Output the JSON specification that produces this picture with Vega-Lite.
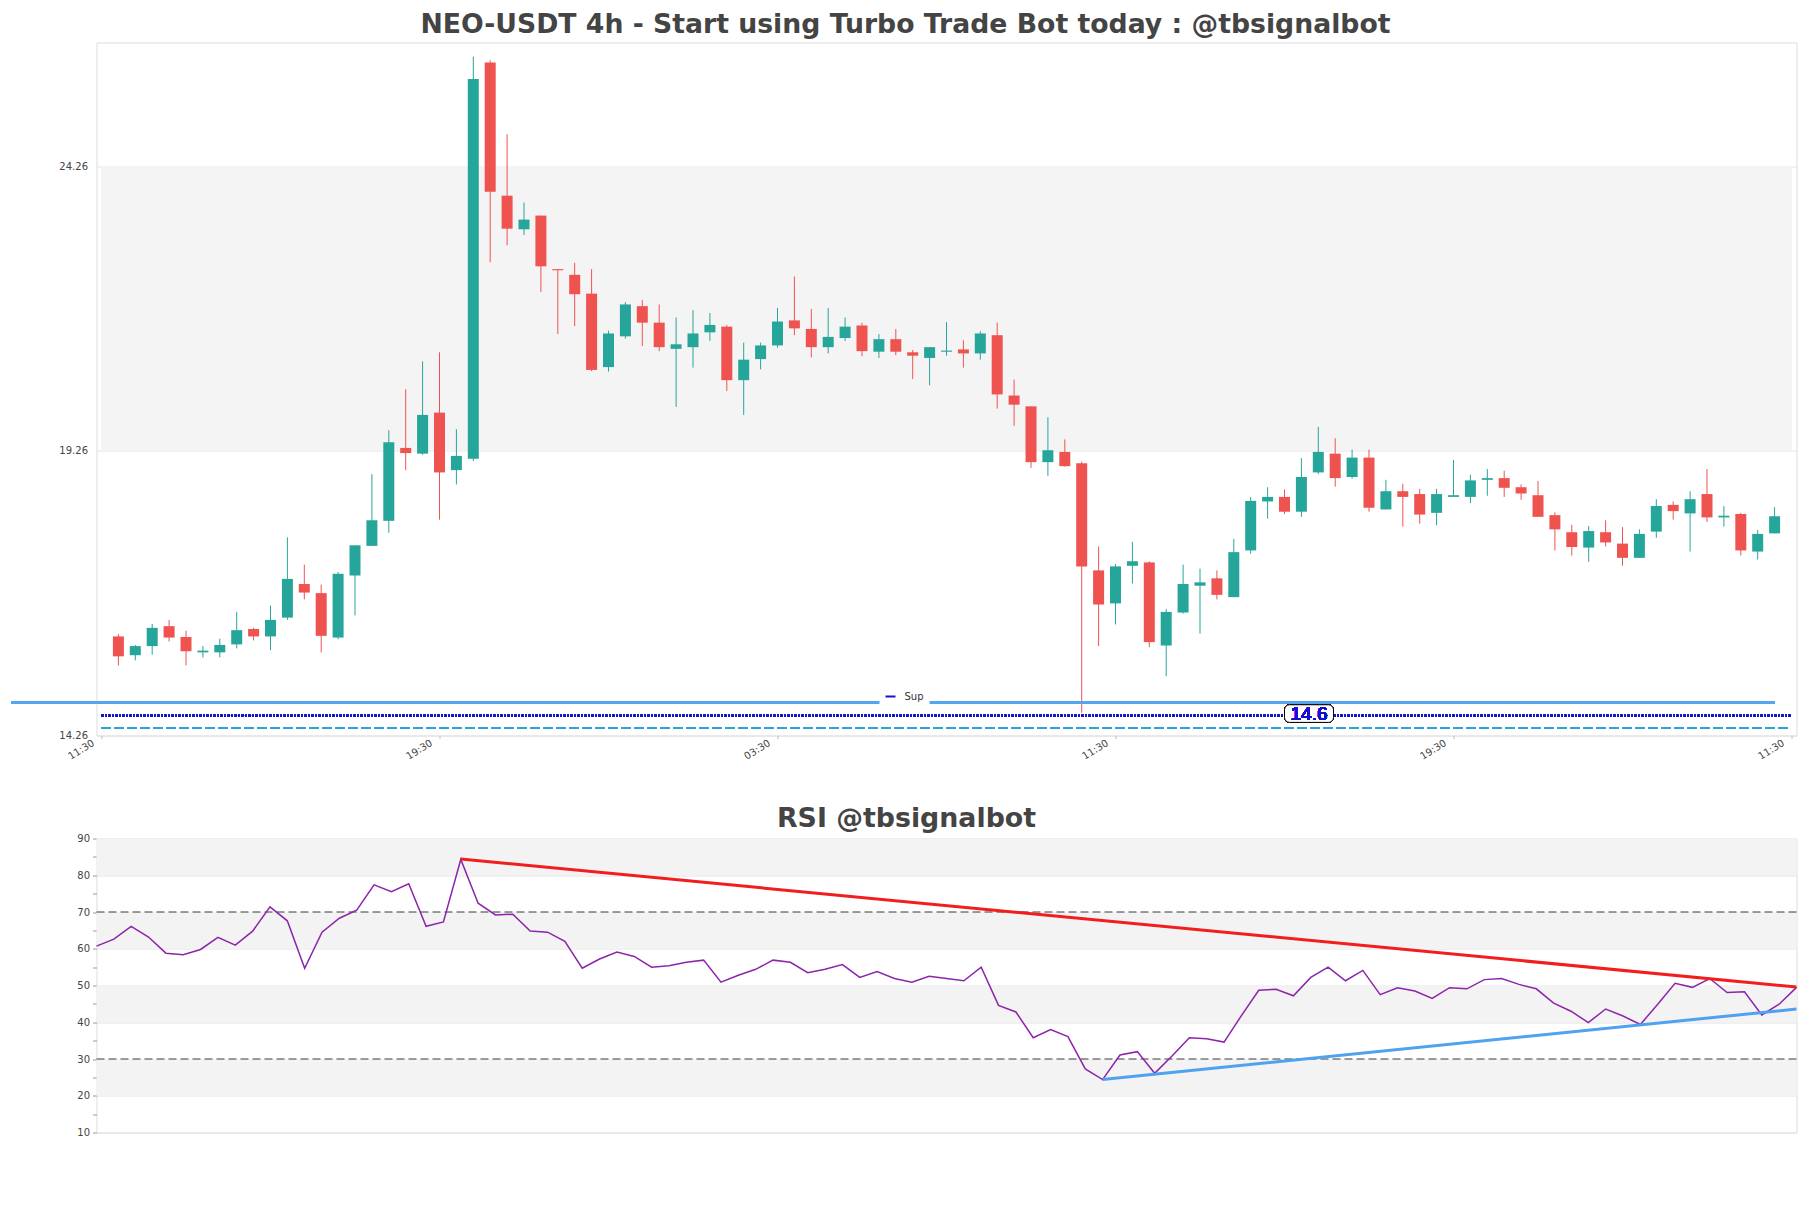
{
  "$schema": "https://vega.github.io/schema/vega-lite/v6.json",
  "background": "white",
  "padding": {"left": 9.5, "top": 11.5, "right": 14, "bottom": 10},
  "config": {"font": "DejaVu Sans", "view": {"stroke": "#dddddd"}},
  "datasets": {
    "candles": [
      {"i":1,"o":16.00,"h":16.04,"l":15.49,"c":15.65,"r":60.7},
      {"i":2,"o":15.67,"h":15.85,"l":15.58,"c":15.83,"r":62.6},
      {"i":3,"o":15.83,"h":16.22,"l":15.68,"c":16.15,"r":66.1},
      {"i":4,"o":16.18,"h":16.29,"l":15.91,"c":15.98,"r":63.2},
      {"i":5,"o":15.99,"h":16.10,"l":15.49,"c":15.74,"r":58.8},
      {"i":6,"o":15.72,"h":15.83,"l":15.63,"c":15.75,"r":58.4},
      {"i":7,"o":15.72,"h":15.96,"l":15.63,"c":15.85,"r":59.8},
      {"i":8,"o":15.86,"h":16.43,"l":15.79,"c":16.11,"r":63.1},
      {"i":9,"o":16.13,"h":16.15,"l":15.93,"c":16.00,"r":61.0},
      {"i":10,"o":16.00,"h":16.54,"l":15.76,"c":16.29,"r":64.8},
      {"i":11,"o":16.33,"h":17.74,"l":16.29,"c":17.01,"r":71.4},
      {"i":12,"o":16.92,"h":17.26,"l":16.65,"c":16.77,"r":67.6},
      {"i":13,"o":16.76,"h":16.91,"l":15.72,"c":16.01,"r":54.7},
      {"i":14,"o":15.98,"h":17.13,"l":15.95,"c":17.10,"r":64.5},
      {"i":15,"o":17.07,"h":17.60,"l":16.37,"c":17.60,"r":68.3},
      {"i":16,"o":17.59,"h":18.85,"l":17.59,"c":18.04,"r":70.5},
      {"i":17,"o":18.03,"h":19.62,"l":17.82,"c":19.41,"r":77.4},
      {"i":18,"o":19.31,"h":20.34,"l":18.92,"c":19.22,"r":75.5},
      {"i":19,"o":19.21,"h":20.83,"l":19.19,"c":19.89,"r":77.7},
      {"i":20,"o":19.93,"h":20.99,"l":18.05,"c":18.88,"r":66.1},
      {"i":21,"o":18.92,"h":19.64,"l":18.67,"c":19.17,"r":67.3},
      {"i":22,"o":19.12,"h":26.18,"l":19.08,"c":25.79,"r":84.3},
      {"i":23,"o":26.08,"h":26.12,"l":22.57,"c":23.81,"r":72.4},
      {"i":24,"o":23.74,"h":24.82,"l":22.87,"c":23.16,"r":69.2},
      {"i":25,"o":23.15,"h":23.62,"l":23.05,"c":23.32,"r":69.4},
      {"i":26,"o":23.39,"h":23.39,"l":22.05,"c":22.50,"r":64.8},
      {"i":27,"o":22.45,"h":22.45,"l":21.31,"c":22.43,"r":64.5},
      {"i":28,"o":22.35,"h":22.56,"l":21.45,"c":22.01,"r":62.0},
      {"i":29,"o":22.02,"h":22.45,"l":20.66,"c":20.68,"r":54.7},
      {"i":30,"o":20.73,"h":21.37,"l":20.65,"c":21.32,"r":57.2},
      {"i":31,"o":21.27,"h":21.87,"l":21.23,"c":21.83,"r":59.1},
      {"i":32,"o":21.80,"h":21.91,"l":21.10,"c":21.51,"r":57.9},
      {"i":33,"o":21.51,"h":21.83,"l":21.01,"c":21.08,"r":55.0},
      {"i":34,"o":21.05,"h":21.60,"l":20.03,"c":21.13,"r":55.4},
      {"i":35,"o":21.08,"h":21.73,"l":20.72,"c":21.32,"r":56.3},
      {"i":36,"o":21.34,"h":21.68,"l":21.19,"c":21.47,"r":56.9},
      {"i":37,"o":21.44,"h":21.47,"l":20.31,"c":20.50,"r":50.9},
      {"i":38,"o":20.50,"h":21.16,"l":19.89,"c":20.86,"r":52.8},
      {"i":39,"o":20.87,"h":21.16,"l":20.69,"c":21.11,"r":54.4},
      {"i":40,"o":21.11,"h":21.77,"l":21.07,"c":21.53,"r":56.9},
      {"i":41,"o":21.55,"h":22.32,"l":21.29,"c":21.41,"r":56.3},
      {"i":42,"o":21.40,"h":21.75,"l":20.90,"c":21.08,"r":53.5},
      {"i":43,"o":21.08,"h":21.77,"l":20.97,"c":21.26,"r":54.4},
      {"i":44,"o":21.24,"h":21.60,"l":21.19,"c":21.44,"r":55.7},
      {"i":45,"o":21.46,"h":21.51,"l":20.92,"c":21.01,"r":52.2},
      {"i":46,"o":21.00,"h":21.31,"l":20.89,"c":21.22,"r":53.8},
      {"i":47,"o":21.22,"h":21.40,"l":20.94,"c":21.00,"r":51.9},
      {"i":48,"o":20.99,"h":21.03,"l":20.52,"c":20.93,"r":50.9},
      {"i":49,"o":20.89,"h":21.08,"l":20.41,"c":21.08,"r":52.5},
      {"i":50,"o":21.00,"h":21.52,"l":20.93,"c":21.02,"r":51.9},
      {"i":51,"o":21.04,"h":21.20,"l":20.72,"c":20.97,"r":51.3},
      {"i":52,"o":20.97,"h":21.36,"l":20.86,"c":21.32,"r":55.0},
      {"i":53,"o":21.29,"h":21.51,"l":20.00,"c":20.25,"r":44.6},
      {"i":54,"o":20.23,"h":20.51,"l":19.70,"c":20.07,"r":42.8},
      {"i":55,"o":20.04,"h":20.04,"l":18.96,"c":19.06,"r":35.8},
      {"i":56,"o":19.06,"h":19.85,"l":18.82,"c":19.27,"r":38.0},
      {"i":57,"o":19.24,"h":19.46,"l":18.98,"c":18.99,"r":36.1},
      {"i":58,"o":19.04,"h":19.07,"l":14.66,"c":17.23,"r":27.3},
      {"i":59,"o":17.16,"h":17.58,"l":15.83,"c":16.56,"r":24.4},
      {"i":60,"o":16.58,"h":17.27,"l":16.21,"c":17.23,"r":31.1},
      {"i":61,"o":17.24,"h":17.66,"l":16.93,"c":17.32,"r":32.0},
      {"i":62,"o":17.30,"h":17.32,"l":15.81,"c":15.90,"r":26.1},
      {"i":63,"o":15.84,"h":16.48,"l":15.30,"c":16.43,"r":30.8},
      {"i":64,"o":16.42,"h":17.26,"l":16.40,"c":16.92,"r":35.8},
      {"i":65,"o":16.89,"h":17.19,"l":16.05,"c":16.95,"r":35.5},
      {"i":66,"o":17.02,"h":17.16,"l":16.65,"c":16.73,"r":34.6},
      {"i":67,"o":16.69,"h":17.71,"l":16.69,"c":17.48,"r":41.8},
      {"i":68,"o":17.51,"h":18.45,"l":17.45,"c":18.38,"r":48.7},
      {"i":69,"o":18.37,"h":18.62,"l":18.07,"c":18.45,"r":49.0},
      {"i":70,"o":18.45,"h":18.58,"l":18.15,"c":18.19,"r":47.2},
      {"i":71,"o":18.19,"h":19.13,"l":18.10,"c":18.80,"r":52.2},
      {"i":72,"o":18.88,"h":19.68,"l":18.85,"c":19.24,"r":55.0},
      {"i":73,"o":19.21,"h":19.48,"l":18.63,"c":18.78,"r":51.3},
      {"i":74,"o":18.80,"h":19.28,"l":18.77,"c":19.14,"r":54.1},
      {"i":75,"o":19.14,"h":19.28,"l":18.19,"c":18.26,"r":47.5},
      {"i":76,"o":18.23,"h":18.75,"l":18.23,"c":18.55,"r":49.4},
      {"i":77,"o":18.55,"h":18.68,"l":17.93,"c":18.45,"r":48.5},
      {"i":78,"o":18.50,"h":18.59,"l":17.98,"c":18.14,"r":46.5},
      {"i":79,"o":18.17,"h":18.59,"l":17.95,"c":18.50,"r":49.4},
      {"i":80,"o":18.45,"h":19.10,"l":18.45,"c":18.48,"r":49.1},
      {"i":81,"o":18.45,"h":18.84,"l":18.34,"c":18.74,"r":51.6},
      {"i":82,"o":18.75,"h":18.94,"l":18.47,"c":18.78,"r":51.9},
      {"i":83,"o":18.78,"h":18.91,"l":18.45,"c":18.61,"r":50.3},
      {"i":84,"o":18.62,"h":18.67,"l":18.40,"c":18.51,"r":49.1},
      {"i":85,"o":18.48,"h":18.73,"l":18.10,"c":18.10,"r":45.2},
      {"i":86,"o":18.13,"h":18.18,"l":17.51,"c":17.88,"r":43.0},
      {"i":87,"o":17.83,"h":17.96,"l":17.42,"c":17.57,"r":39.9},
      {"i":88,"o":17.56,"h":17.94,"l":17.31,"c":17.85,"r":43.6},
      {"i":89,"o":17.83,"h":18.04,"l":17.58,"c":17.65,"r":41.7},
      {"i":90,"o":17.63,"h":17.92,"l":17.24,"c":17.38,"r":39.4},
      {"i":91,"o":17.38,"h":17.88,"l":17.38,"c":17.80,"r":44.9},
      {"i":92,"o":17.84,"h":18.41,"l":17.73,"c":18.29,"r":50.6},
      {"i":93,"o":18.31,"h":18.37,"l":18.05,"c":18.20,"r":49.5},
      {"i":94,"o":18.16,"h":18.55,"l":17.49,"c":18.41,"r":51.9},
      {"i":95,"o":18.50,"h":18.94,"l":18.01,"c":18.09,"r":48.1},
      {"i":96,"o":18.09,"h":18.29,"l":17.93,"c":18.12,"r":48.3},
      {"i":97,"o":18.15,"h":18.17,"l":17.42,"c":17.51,"r":42.0},
      {"i":98,"o":17.49,"h":17.87,"l":17.35,"c":17.80,"r":44.9},
      {"i":99,"o":17.81,"h":18.27,"l":17.81,"c":18.11,"r":49.5}
    ],
    "bands": [
      {"lo": 20, "hi": 30},
      {"lo": 40, "hi": 50},
      {"lo": 60, "hi": 70},
      {"lo": 80, "hi": 90}
    ],
    "levels": [{"lvl": 30}, {"lvl": 70}],
    "resTrend": [{"i": 22, "v": 84.4}, {"i": 99, "v": 49.6}],
    "supTrend": [{"i": 59, "v": 24.4}, {"i": 99, "v": 43.6}]
  },
  "bounds": "flush",
  "spacing": 103,
  "vconcat": [
    {
      "width": 1700,
      "height": 693,
      "title": {
        "text": "NEO-USDT 4h - Start using Turbo Trade Bot today : @tbsignalbot",
        "fontSize": 26.7, "fontWeight": "bold", "color": "#444444",
        "anchor": "middle", "dx": -41, "offset": -17.3, "baseline": "alphabetic"
      },
      "data": {"name": "candles"},
      "encoding": {
        "x": {
          "field": "i", "type": "quantitative",
          "scale": {"domain": [0, 100], "nice": false, "zero": false},
          "axis": {
            "title": null, "values": [0, 20, 40, 60, 80, 100], "tickCount": 20,
            "labelExpr": "['11:30','19:30','03:30','11:30','19:30','11:30'][round(datum.value/20)]",
            "labelAngle": -32,
            "labelFontSize": 10, "labelColor": "#444444",
            "grid": false, "domain": false, "ticks": true, "tickSize": 3, "tickColor": "#bbbbbb",
            "labelPadding": -1, "labelOffset": -11, "labelOverlap": false
          }
        }
      },
      "layer": [
        {
          "mark": {"type": "rect", "fill": "#f4f4f4"},
          "encoding": {
            "x": {"datum": 0, "type": "quantitative"},
            "x2": {"datum": 100},
            "y": {"datum": 19.26, "type": "quantitative"},
            "y2": {"datum": 24.26}
          }
        },
        {
          "mark": {"type": "rule", "strokeWidth": 1},
          "encoding": {
            "y": {
              "field": "l", "type": "quantitative",
              "scale": {"domain": [14.26, 26.43], "nice": false, "zero": false},
              "axis": {
                "title": null, "values": [14.26, 19.26, 24.26], "tickCount": 20, "format": ".2f",
                "grid": true, "gridColor": "#e2e2e2", "ticks": false, "domain": false,
                "labelPadding": 9, "labelFontSize": 10, "labelColor": "#444444", "labelOverlap": false
              }
            },
            "y2": {"field": "h"},
            "color": {"condition": {"test": "datum.c < datum.o", "value": "#ef5350"}, "value": "#26a69a"}
          }
        },
        {
          "mark": {"type": "bar", "size": 11},
          "encoding": {
            "y": {"field": "o", "type": "quantitative"},
            "y2": {"field": "c"},
            "color": {"condition": {"test": "datum.c < datum.o", "value": "#ef5350"}, "value": "#26a69a"}
          }
        },
        {
          "mark": {"type": "rule", "strokeWidth": 3, "color": "#55a4ef", "clip": false},
          "encoding": {
            "x": {"datum": -5.3, "type": "quantitative"},
            "x2": {"datum": 99},
            "y": {"datum": 14.84, "type": "quantitative"}
          }
        },
        {
          "mark": {"type": "rule", "strokeWidth": 1.2, "strokeDash": [9, 4], "color": "#2aa3d6"},
          "encoding": {
            "x": {"datum": 0, "type": "quantitative"},
            "x2": {"datum": 100},
            "y": {"datum": 14.39, "type": "quantitative"}
          }
        },
        {
          "mark": {"type": "rule", "strokeWidth": 2, "strokeDash": [2, 1.5]},
          "encoding": {
            "x": {"datum": 0, "type": "quantitative"},
            "x2": {"datum": 100},
            "y": {"datum": 14.61, "type": "quantitative"},
            "color": {
              "datum": "Sup", "type": "nominal",
              "scale": {"range": ["#1414c8"]},
              "legend": {
                "title": null, "orient": "none", "legendX": 783, "legendY": 643,
                "symbolType": "stroke", "symbolStrokeWidth": 2, "symbolSize": 100,
                "labelFontSize": 10, "labelColor": "#333333", "fillColor": "white",
                "padding": 5, "labelOffset": 8
              }
            }
          }
        },
        {
          "mark": {"type": "rect", "fill": "white", "stroke": "black", "strokeWidth": 1, "cornerRadius": 5},
          "encoding": {
            "x": {"datum": 70.0, "type": "quantitative"},
            "x2": {"datum": 72.9},
            "y": {"datum": 14.49, "type": "quantitative"},
            "y2": {"datum": 14.80}
          }
        },
        {
          "mark": {"type": "text", "text": "14.6", "font": "Liberation Sans", "fontSize": 19, "color": "#1010d0", "align": "center", "baseline": "middle"},
          "encoding": {
            "x": {"datum": 71.45, "type": "quantitative"},
            "y": {"datum": 14.645, "type": "quantitative"}
          }
        }
      ]
    },
    {
      "width": 1700,
      "height": 294,
      "title": {
        "text": "RSI @tbsignalbot",
        "fontSize": 26.8, "fontWeight": "bold", "color": "#444444",
        "anchor": "middle", "dx": -40, "offset": -20.5, "baseline": "alphabetic"
      },
      "layer": [
        {
          "data": {"name": "bands"},
          "mark": {"type": "rect", "fill": "#f3f3f3"},
          "encoding": {
            "y": {
              "field": "lo", "type": "quantitative",
              "scale": {"domain": [10, 90], "nice": false, "zero": false},
              "axis": {
                "title": null,
                "values": [10, 15, 20, 25, 30, 35, 40, 45, 50, 55, 60, 65, 70, 75, 80, 85, 90],
                "tickCount": 40,
                "labelExpr": "datum.value % 10 == 0 ? datum.label : ''",
                "labelOverlap": false,
                "grid": true, "gridColor": "#e2e2e2",
                "gridOpacity": {"condition": {"test": "datum.value % 10 != 0", "value": 0}, "value": 1},
                "ticks": true, "tickSize": 4, "tickColor": "#999999",
                "domain": false, "labelPadding": 3, "labelFontSize": 10, "labelColor": "#444444"
              }
            },
            "y2": {"field": "hi"}
          }
        },
        {
          "mark": {"type": "rect", "fill": "#9b59b6", "opacity": 0.035},
          "encoding": {
            "y": {"datum": 30, "type": "quantitative"},
            "y2": {"datum": 70}
          }
        },
        {
          "data": {"name": "levels"},
          "mark": {"type": "rule", "color": "#3a3a3a", "strokeWidth": 1.2, "strokeDash": [8, 4]},
          "encoding": {
            "y": {"field": "lvl", "type": "quantitative"}
          }
        },
        {
          "data": {"name": "candles"},
          "mark": {"type": "line", "color": "#8e24aa", "strokeWidth": 1.5},
          "encoding": {
            "x": {"field": "i", "type": "quantitative", "scale": {"domain": [1, 99], "nice": false, "zero": false}, "axis": null},
            "y": {"field": "r", "type": "quantitative"}
          }
        },
        {
          "data": {"name": "resTrend"},
          "mark": {"type": "line", "color": "#f21d1d", "strokeWidth": 3},
          "encoding": {
            "x": {"field": "i", "type": "quantitative"},
            "y": {"field": "v", "type": "quantitative"}
          }
        },
        {
          "data": {"name": "supTrend"},
          "mark": {"type": "line", "color": "#4ea2ef", "strokeWidth": 3},
          "encoding": {
            "x": {"field": "i", "type": "quantitative"},
            "y": {"field": "v", "type": "quantitative"}
          }
        }
      ]
    }
  ]
}
